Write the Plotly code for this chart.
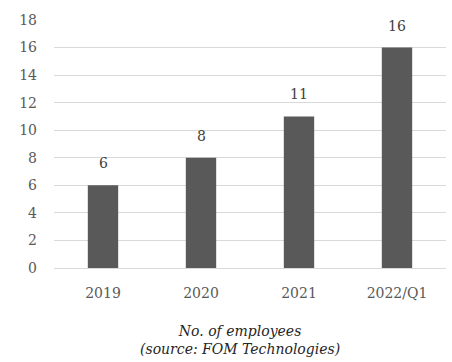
import plotly.graph_objects as go

# Headcount by year
periods = ["2019", "2020", "2021", "2022/Q1"]
employees = [6, 8, 11, 16]
y_ticks = [0, 2, 4, 6, 8, 10, 12, 14, 16, 18]

FONT = "Georgia, 'DejaVu Serif', serif"

fig = go.Figure(
    go.Bar(
        x=periods,
        y=employees,
        marker=dict(color="#595959", line=dict(width=0)),
        width=0.31,
        hoverinfo="x+y",
    )
)

# Value labels sitting a little above each bar (positioned by category index,
# since year-like strings would otherwise be read as numeric positions)
value_labels = [
    dict(
        x=i,
        y=v,
        xref="x",
        yref="y",
        text=str(v),
        showarrow=False,
        yanchor="bottom",
        yshift=12,
        font=dict(family=FONT, size=14, color="#404040"),
    )
    for i, v in enumerate(employees)
]

caption = dict(
    text="No. of employees<br>(source: FOM Technologies)",
    xref="paper",
    yref="paper",
    x=0.475,
    y=-0.215,
    xanchor="center",
    yanchor="top",
    showarrow=False,
    align="center",
    font=dict(family=FONT, size=14, color="#262626", style="italic"),
)

fig.update_layout(
    width=452,
    height=362,
    margin=dict(l=54, r=6, t=20, b=94),
    plot_bgcolor="white",
    paper_bgcolor="white",
    showlegend=False,
    font=dict(family=FONT, size=14, color="#595959"),
    xaxis=dict(
        type="category",
        categoryorder="array",
        categoryarray=periods,
        range=[-0.5, len(periods) - 0.5],
        showgrid=False,
        showline=False,
        ticks="",
        ticklabelstandoff=15,
        tickfont=dict(family=FONT, size=14, color="#595959"),
    ),
    yaxis=dict(
        range=[0, 18],
        tickvals=y_ticks,
        showgrid=True,
        gridcolor="#d9d9d9",
        gridwidth=1,
        zeroline=True,
        zerolinecolor="#d9d9d9",
        zerolinewidth=1,
        showline=False,
        ticks="",
        ticklabelstandoff=16,
        tickfont=dict(family=FONT, size=14, color="#595959"),
    ),
    annotations=value_labels + [caption],
)

fig.write_html("out.html")
